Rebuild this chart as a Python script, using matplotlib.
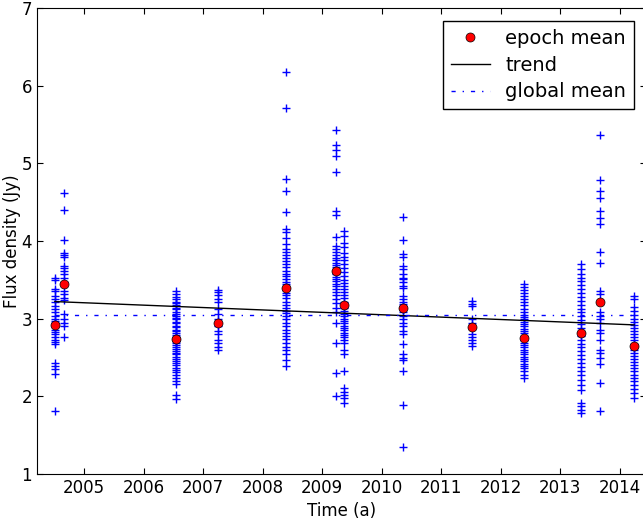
import matplotlib
matplotlib.use("Agg")
import matplotlib.pyplot as plt
import numpy as np

# observation epochs (decimal year) and the flux densities measured at each
epochs = [2004.51, 2004.66, 2006.54, 2007.25, 2008.40, 2009.24, 2009.37,
          2010.36, 2011.52, 2012.39, 2013.35, 2013.67, 2014.24]

flux = [
    [3.53, 3.50, 3.38, 3.35, 3.29, 3.25, 3.21, 3.16, 3.12, 3.08, 3.04, 3.00,
     2.97, 2.94, 2.91, 2.86, 2.83, 2.80, 2.77, 2.73, 2.70, 2.67, 2.43, 2.39,
     2.35, 2.29, 1.81],
    [4.62, 4.40, 4.01, 3.85, 3.82, 3.79, 3.68, 3.65, 3.62, 3.58, 3.53, 3.47,
     3.36, 3.32, 3.27, 3.24, 3.06, 3.00, 2.95, 2.91, 2.76],
    [3.35, 3.32, 3.28, 3.25, 3.22, 3.20, 3.17, 3.14, 3.12, 3.09, 3.06, 3.04,
     3.01, 2.99, 2.96, 2.94, 2.91, 2.89, 2.86, 2.84, 2.81, 2.79, 2.76, 2.74,
     2.71, 2.69, 2.66, 2.64, 2.61, 2.59, 2.56, 2.54, 2.51, 2.48, 2.46, 2.43,
     2.40, 2.37, 2.34, 2.31, 2.28, 2.24, 2.20, 2.16, 2.02, 1.96],
    [3.37, 3.34, 3.30, 3.25, 3.21, 3.12, 3.06, 3.00, 2.95, 2.91, 2.84, 2.80,
     2.73, 2.69, 2.64, 2.60],
    [6.18, 5.71, 4.80, 4.65, 4.37, 4.16, 4.12, 4.04, 3.96, 3.90, 3.86, 3.82,
     3.78, 3.74, 3.70, 3.66, 3.62, 3.58, 3.55, 3.51, 3.47, 3.44, 3.40, 3.37,
     3.33, 3.30, 3.26, 3.22, 3.18, 3.14, 3.10, 3.07, 3.03, 2.99, 2.95, 2.90,
     2.86, 2.82, 2.78, 2.74, 2.69, 2.64, 2.60, 2.54, 2.47, 2.39],
    [5.43, 5.23, 5.17, 5.10, 4.89, 4.39, 4.33, 4.05, 3.94, 3.90, 3.86, 3.82,
     3.78, 3.75, 3.72, 3.69, 3.66, 3.63, 3.60, 3.57, 3.54, 3.51, 3.48, 3.45,
     3.42, 3.38, 3.34, 3.30, 3.25, 3.20, 3.14, 3.08, 2.95, 2.69, 2.30, 2.00],
    [4.13, 4.07, 3.98, 3.92, 3.85, 3.80, 3.75, 3.70, 3.65, 3.60, 3.55, 3.50,
     3.46, 3.42, 3.38, 3.34, 3.30, 3.26, 3.22, 3.18, 3.14, 3.10, 3.06, 3.03,
     3.00, 2.97, 2.94, 2.91, 2.88, 2.85, 2.82, 2.79, 2.76, 2.73, 2.69, 2.60,
     2.54, 2.32, 2.11, 2.06, 2.02, 1.98, 1.92],
    [4.31, 4.01, 3.83, 3.80, 3.68, 3.64, 3.57, 3.53, 3.51, 3.47, 3.42, 3.39,
     3.29, 3.25, 3.22, 3.19, 3.16, 3.12, 3.08, 3.03, 2.99, 2.95, 2.91, 2.84,
     2.80, 2.67, 2.54, 2.50, 2.47, 2.32, 1.89, 1.35],
    [3.23, 3.19, 3.16, 2.99, 2.95, 2.88, 2.80, 2.76, 2.72, 2.69, 2.65],
    [3.45, 3.41, 3.37, 3.33, 3.29, 3.25, 3.21, 3.17, 3.13, 3.09, 3.05, 3.02,
     2.99, 2.96, 2.93, 2.90, 2.87, 2.84, 2.81, 2.78, 2.75, 2.72, 2.69, 2.66,
     2.63, 2.60, 2.57, 2.54, 2.51, 2.48, 2.45, 2.42, 2.39, 2.36, 2.32, 2.28,
     2.24],
    [3.70, 3.64, 3.58, 3.53, 3.48, 3.43, 3.38, 3.33, 3.28, 3.23, 3.18, 3.13,
     3.08, 3.03, 2.98, 2.93, 2.88, 2.83, 2.78, 2.73, 2.68, 2.63, 2.58, 2.53,
     2.48, 2.43, 2.38, 2.33, 2.27, 2.21, 2.15, 2.08, 1.91, 1.87, 1.83, 1.79],
    [5.36, 4.78, 4.65, 4.55, 4.39, 4.29, 4.22, 3.86, 3.72, 3.36, 3.32, 3.08,
     3.03, 2.99, 2.95, 2.86, 2.82, 2.73, 2.60, 2.56, 2.50, 2.41, 2.17, 1.81],
    [3.29, 3.25, 3.15, 3.10, 3.05, 3.00, 2.96, 2.92, 2.88, 2.84, 2.80, 2.76,
     2.72, 2.68, 2.64, 2.60, 2.56, 2.52, 2.48, 2.44, 2.40, 2.36, 2.32, 2.28,
     2.24, 2.20, 2.15, 2.10, 2.04, 1.98],
]

epoch_means = [2.92, 3.45, 2.74, 2.95, 3.40, 3.61, 3.17, 3.14, 2.89, 2.75,
               2.82, 3.22, 2.65]

# linear trend evaluated at first and last epoch, and the mean of all data
trend_values = [3.22, 2.92]
global_mean = 3.045

plt.rcParams['font.family'] = 'DejaVu Sans'
plt.rcParams['font.size'] = 12
plt.rcParams['xtick.direction'] = 'in'
plt.rcParams['ytick.direction'] = 'in'
plt.rcParams['xtick.major.size'] = 4
plt.rcParams['ytick.major.size'] = 4
plt.rcParams['xtick.top'] = True
plt.rcParams['ytick.right'] = True

fig = plt.figure(figsize=(6.43, 5.20), dpi=100)
ax = fig.add_axes([37 / 643, 46 / 520, (645.5 - 37) / 643, (474 - 8) / 520])

for t, vals in zip(epochs, flux):
    ax.plot([t] * len(vals), vals, '+', color='blue', ms=6, mew=1, zorder=2)

ax.plot(epochs, epoch_means, 'o', color='red', mec='black', mew=0.5, ms=6.5,
        zorder=4, label='epoch mean')
ax.plot([epochs[0], epochs[-1]], trend_values, '-', color='black', lw=1,
        zorder=3, label='trend')
ax.plot([epochs[0], epochs[-1]], [global_mean, global_mean], color='blue',
        lw=1, ls=(0, (3, 5, 1, 5)), zorder=3, label='global mean')

ax.set_xlim(2004.21, 2014.43)
ax.set_ylim(1, 7)
ax.set_xticks(range(2005, 2015))
ax.set_yticks(range(1, 8))
ax.xaxis.get_major_formatter().set_useOffset(False)
ax.set_xlabel('Time (a)')
ax.set_ylabel('Flux density (Jy)')
ax.yaxis.set_label_coords(-0.026, 0.5)

leg = ax.legend(loc='upper right', numpoints=1, fontsize=14, fancybox=False,
                framealpha=1, edgecolor='black', handlelength=2.0,
                handletextpad=0.8, borderpad=0.4, labelspacing=0.4,
                borderaxespad=0, bbox_to_anchor=(634 / 643, 499 / 520),
                bbox_transform=fig.transFigure)
leg.get_frame().set_linewidth(1)

fig.savefig('out.png', dpi=100)
